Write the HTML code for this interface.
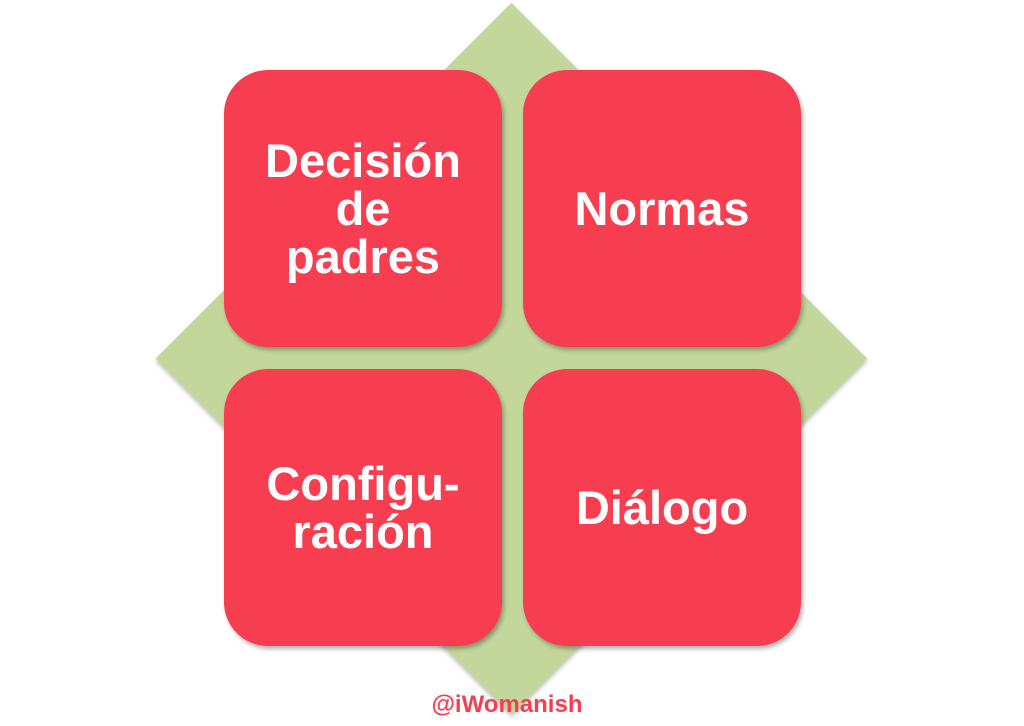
<!DOCTYPE html>
<html><head><meta charset="utf-8"><style>
html,body{margin:0;padding:0;background:#fff;width:1024px;height:726px;overflow:hidden;position:relative;font-family:"Liberation Sans",sans-serif}
.d{position:absolute;left:260px;top:107px;width:503px;height:503px;background:#c3d69b;transform:rotate(45deg);box-shadow:2px 2px 4px rgba(0,0,0,.25)}
.b{position:absolute;width:278px;height:277px;background:#f63e50;border-radius:44px;box-shadow:2px 3px 4px rgba(0,0,0,.3);display:flex;align-items:center;justify-content:center;text-align:center;color:#fff;font-weight:bold;font-size:47px;line-height:48px}
.h{position:absolute;left:0;width:1014px;text-align:center;top:691px;color:#f63e50;font-weight:bold;font-size:24px}
</style></head><body>
<div class="d"></div>
<div class="b" style="left:224px;top:70px">Decisión<br>de<br>padres</div>
<div class="b" style="left:523px;top:70px">Normas</div>
<div class="b" style="left:224px;top:369px">Configu-<br>ración</div>
<div class="b" style="left:523px;top:369px">Diálogo</div>
<div class="h">@iWomanish</div>
</body></html>
